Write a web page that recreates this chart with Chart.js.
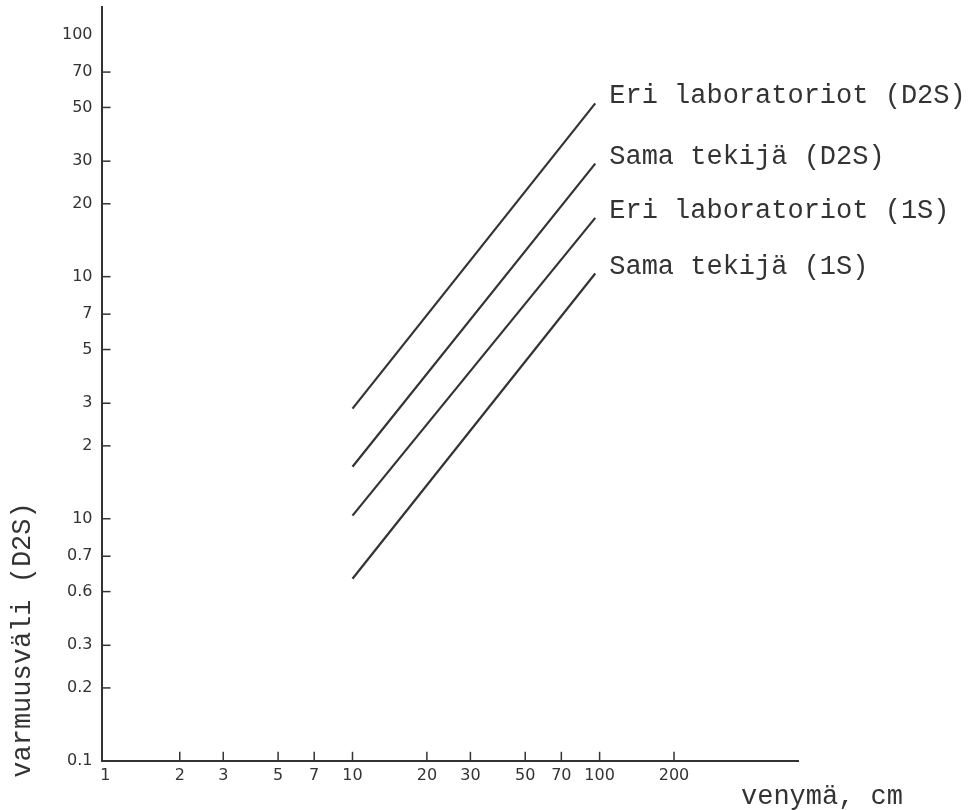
<!DOCTYPE html>
<html>
<head>
<meta charset="utf-8">
<script src="https://cdn.jsdelivr.net/npm/chart.js@4.4.0/dist/chart.umd.min.js"></script>
<style>
  html, body { margin: 0; padding: 0; background: #fff; }
  #wrap { width: 970px; height: 810px; }
</style>
</head>
<body>
<div id="wrap"><canvas id="chart" width="970" height="810"></canvas></div>
<script>
// series: each line runs from venymä 10 cm to about 100 cm
const seriesNames = ['Eri laboratoriot (D2S)', 'Sama tekijä (D2S)', 'Eri laboratoriot (1S)', 'Sama tekijä (1S)'];
const lineX = [10, 96];
const startValues = [2.85, 1.64, 1.03, 0.565];
const endValues = [52, 29.3, 17.5, 10.3];

// tick values and the labels as printed
const xTicks = [1, 2, 3, 5, 7, 10, 20, 30, 50, 70, 100, 200];
const xTickLabels = ['1', '2', '3', '5', '7', '10', '20', '30', '50', '70', '100', '200'];
const yTicks = [0.1, 0.2, 0.3, 0.5, 0.7, 1, 2, 3, 5, 7, 10, 20, 30, 50, 70, 100];
const yTickLabels = ['0.1', '0.2', '0.3', '0.6', '0.7', '10', '2', '3', '5', '7', '10', '20', '30', '50', '70', '100'];

const xTitle = 'venymä, cm';
const yTitle = 'varmuusväli (D2S)';

const ink = '#333';
const mono = '"Liberation Mono", "Courier New", monospace';

const decorations = {
    id: 'decorations',
    afterDraw(chart) {
        const { ctx, chartArea, scales: { x, y } } = chart;
        ctx.save();
        ctx.strokeStyle = ink;
        ctx.lineWidth = 1.5;
        // short tick marks pointing into the plot
        yTicks.forEach(v => {
            if (v >= 100) return;
            const py = y.getPixelForValue(v);
            ctx.beginPath();
            ctx.moveTo(chartArea.left, py);
            ctx.lineTo(chartArea.left + 9, py);
            ctx.stroke();
        });
        xTicks.forEach(v => {
            if (v <= 1) return;
            const px = x.getPixelForValue(v);
            ctx.beginPath();
            ctx.moveTo(px, chartArea.bottom);
            ctx.lineTo(px, chartArea.bottom - 9);
            ctx.stroke();
        });

        // line labels at the upper end of each line
        ctx.fillStyle = ink;
        ctx.font = '27px ' + mono;
        ctx.textAlign = 'left';
        ctx.textBaseline = 'middle';
        chart.data.datasets.forEach(ds => {
            const last = ds.data[ds.data.length - 1];
            ctx.fillText(ds.label, x.getPixelForValue(last.x) + 14, y.getPixelForValue(last.y) - 7);
        });

        // axis titles
        ctx.textAlign = 'center';
        ctx.fillText(xTitle, 822, 797);
        ctx.translate(23, 640);
        ctx.rotate(-Math.PI / 2);
        ctx.fillText(yTitle, 0, 0);
        ctx.restore();
    }
};

new Chart(document.getElementById('chart'), {
    type: 'scatter',
    data: {
        datasets: seriesNames.map((name, i) => ({
            label: name,
            data: [
                { x: lineX[0], y: startValues[i] },
                { x: lineX[1], y: endValues[i] }
            ],
            showLine: true,
            borderColor: ink,
            borderWidth: 2.2,
            pointRadius: 0,
            fill: false
        }))
    },
    options: {
        responsive: false,
        animation: false,
        layout: { padding: { left: 53, right: 172, top: 7, bottom: 20 } },
        plugins: {
            legend: { display: false },
            tooltip: { enabled: false }
        },
        scales: {
            x: {
                type: 'logarithmic',
                min: 0.965,
                max: 635,
                grid: { display: false, drawTicks: false },
                border: { display: true, color: ink, width: 2 },
                afterBuildTicks: scale => { scale.ticks = xTicks.map(v => ({ value: v })); },
                ticks: {
                    autoSkip: false,
                    maxRotation: 0,
                    padding: 5,
                    color: ink,
                    font: { family: '"DejaVu Sans", sans-serif', size: 16 },
                    callback: (value, index) => xTickLabels[index]
                }
            },
            y: {
                type: 'logarithmic',
                min: 0.1,
                max: 130,
                grid: { display: false, drawTicks: false },
                border: { display: true, color: ink, width: 2 },
                afterBuildTicks: scale => { scale.ticks = yTicks.map(v => ({ value: v })); },
                // the axis runs well past the top label, so no extra room is needed above it
                afterFit: scale => { scale.paddingTop = 0; },
                ticks: {
                    autoSkip: false,
                    padding: 9,
                    color: ink,
                    font: { family: '"DejaVu Sans", sans-serif', size: 16 },
                    callback: (value, index) => yTickLabels[index]
                }
            }
        }
    },
    plugins: [decorations]
});
</script>
</body>
</html>
